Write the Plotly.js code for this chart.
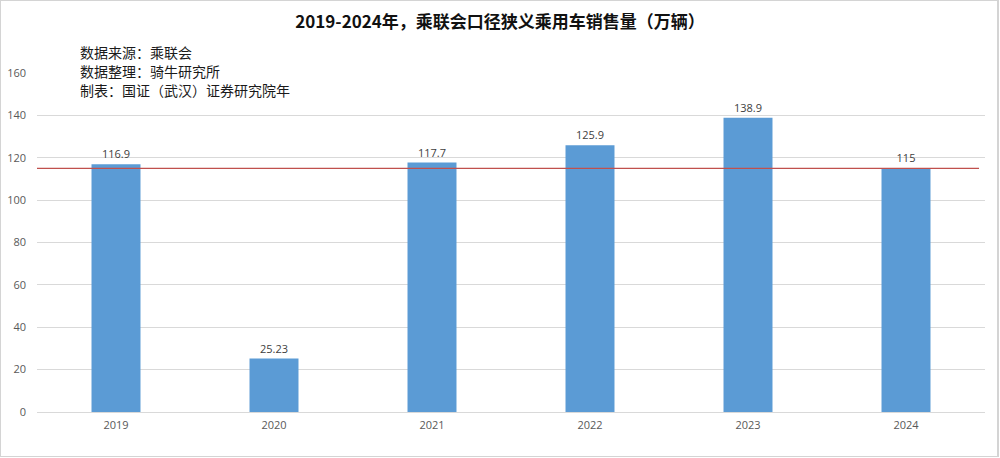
<!DOCTYPE html>
<html><head><meta charset="utf-8">
<script src="https://cdn.plot.ly/plotly-3.0.1.min.js"></script>
<style>
html,body{margin:0;padding:0;background:#fff;}
#wrap{position:relative;width:1000px;height:458px;}
#chart{width:1000px;height:458px;}
#frame{position:absolute;left:0;top:0;width:996px;height:455px;border:1px solid #d4d4d4;border-right-width:2px;pointer-events:none;}
</style></head>
<body><div id="wrap"><div id="chart"></div><div id="frame"></div></div>
<script>
const years = ['2019','2020','2021','2022','2023','2024'];
const sales = [116.9, 25.23, 117.7, 125.9, 138.9, 115];
const labels = ['116.9','25.23','117.7','125.9','138.9','115'];
const refLine = 115;
const yTicks = [0,20,40,60,80,100,120,140,160];
const titleText = '2019-2024年，乘联会口径狭义乘用车销售量（万辆）';
const notes = ['数据来源：乘联会','数据整理：骑牛研究所','制表：国证（武汉）证券研究院年'];

const font = '"Noto Sans CJK SC", "Noto Sans", sans-serif';
const numFont = '"Open Sans", "Liberation Sans", sans-serif';
const trace = {
  type:'bar', x:years, y:sales, text:labels, textposition:'outside', cliponaxis:false,
  textfont:{family:numFont, size:11, color:'#404040'},
  marker:{color:'#5b9bd5'}, hoverinfo:'x+y'
};
const annotations = notes.map((t,i)=>({
  xref:'paper', yref:'paper', x:0.0433, y:1.062 - i*0.056, xanchor:'left', yanchor:'middle',
  text:t, showarrow:false, font:{family:font, size:14, color:'#1a1a1a'}
}));
const layout = {
  width:1000, height:458,
  margin:{l:37, r:15, t:73, b:46},
  paper_bgcolor:'#fff', plot_bgcolor:'#fff',
  bargap:0.69,
  title:{text:titleText, x:0.5, xanchor:'center', y:0.952, yanchor:'middle',
    font:{family:font, size:17, color:'#111', weight:'bold'}},
  xaxis:{type:'category', showgrid:false, showline:false, ticks:'', ticklabelstandoff:5,
    tickfont:{family:numFont, size:11, color:'#595959'}},
  yaxis:{range:[0,160], tickvals:yTicks, showgrid:true, gridcolor:'#d9d9d9', gridwidth:1,
    zeroline:true, zerolinecolor:'#d9d9d9', zerolinewidth:1, showline:false, ticks:'',
    ticklabelstandoff:10,
    tickfont:{family:numFont, size:11, color:'#595959'}},
  shapes:[{type:'line', xref:'paper', x0:0, x1:0.9937, yref:'y', y0:refLine, y1:refLine,
    line:{color:'#c0504d', width:1.3}}],
  annotations:annotations,
  showlegend:false
};
Plotly.newPlot('chart',[trace],layout,{displayModeBar:false, staticPlot:true});
</script></body></html>
